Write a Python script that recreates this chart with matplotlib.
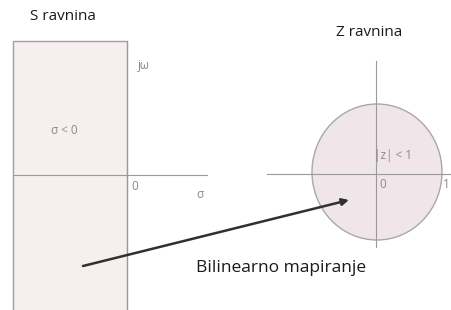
import matplotlib
matplotlib.use("Agg")
import matplotlib.pyplot as plt
from matplotlib.patches import Rectangle, Ellipse

# Diagram geometry (pixel space of a 452x310 canvas, y downward)
s_region = [13, 41, 114, 280]        # x, y, width, height of the sigma<0 strip
s_axis_h = [13, 207, 175]            # x0, x1, y
s_axis_v = [127, 41, 310]            # x, y0, y1
z_circle = [377, 172, 130, 136]      # cx, cy, width, height
z_axis_h = [267, 452, 174]           # x0, x1, y
z_axis_v = [376, 61, 247]            # x, y0, y1
arrow_pts = [(83, 266), (349, 200)]  # tail, head

titles = ["S ravnina", "Z ravnina"]
title_pos = [(63, 17), (369, 32)]
labels = ["jω", "σ < 0", "0", "σ", "|z| < 1", "0", "1"]
label_pos = [(144, 65), (64, 131), (135, 186), (200, 194),
             (393, 155), (383, 184), (446, 184)]
caption = "Bilinearno mapiranje"
caption_pos = (281, 268)

fig = plt.figure(figsize=(4.52, 3.10), dpi=100)
ax = fig.add_axes([0, 0, 1, 1])
ax.set_xlim(0, 452)
ax.set_ylim(310, 0)
ax.axis("off")

axis_col = "#9a9a9a"
ax.add_patch(Rectangle((s_region[0], s_region[1]), s_region[2], s_region[3],
                       facecolor="#f7efef", edgecolor="#a0a0a0", lw=1.0))
ax.plot([s_axis_h[0], s_axis_h[1]], [s_axis_h[2], s_axis_h[2]], color=axis_col, lw=0.8)
ax.plot([s_axis_v[0], s_axis_v[0]], [s_axis_v[1], s_axis_v[2]], color=axis_col, lw=0.8)

ax.add_patch(Ellipse((z_circle[0], z_circle[1]), z_circle[2], z_circle[3],
                     facecolor="#f0e6ea", edgecolor="#a8a8a8", lw=1.0))
ax.plot([z_axis_h[0], z_axis_h[1]], [z_axis_h[2], z_axis_h[2]], color=axis_col, lw=0.8)
ax.plot([z_axis_v[0], z_axis_v[0]], [z_axis_v[1], z_axis_v[2]], color=axis_col, lw=0.8)

ax.annotate("", xy=arrow_pts[1], xytext=arrow_pts[0],
            arrowprops=dict(arrowstyle="-|>", color="#303030", lw=1.8,
                            mutation_scale=10, shrinkA=0, shrinkB=0))

fam = ["Open Sans", "DejaVu Sans"]
for t, (x, y) in zip(titles, title_pos):
    ax.text(x, y, t, ha="center", va="center", fontsize=11, color="#1a1a1a", family=fam)
for t, (x, y) in zip(labels, label_pos):
    ax.text(x, y, t, ha="center", va="center", fontsize=8.5, color="#8a8a8a", family=fam)
ax.text(caption_pos[0], caption_pos[1], caption, ha="center", va="center",
        fontsize=12.5, color="#1a1a1a", family=fam)

fig.savefig("out.png", dpi=100)
